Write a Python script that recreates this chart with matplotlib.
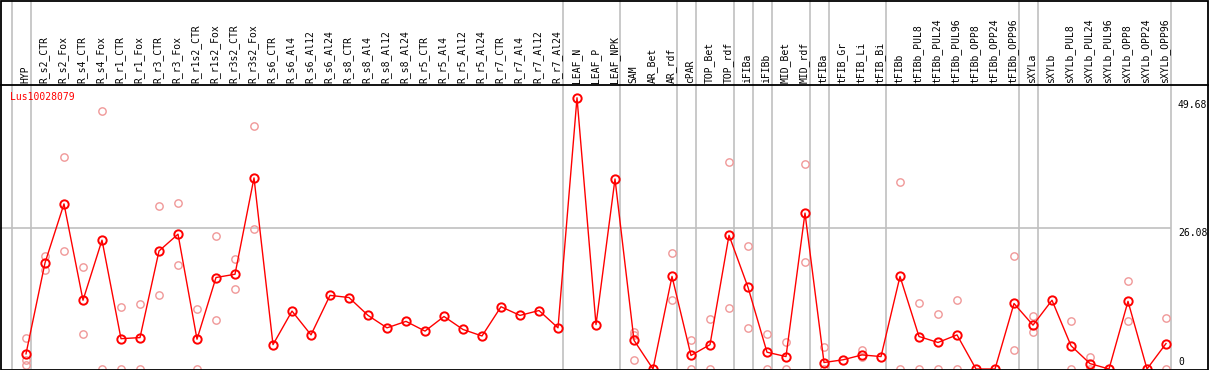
import numpy as np
import matplotlib
matplotlib.use('Agg')
import matplotlib.pyplot as plt
from matplotlib.patches import Rectangle

gene = 'Lus10028079'

samples = ['HYP', 'R_s2_CTR', 'R_s2_Fox', 'R_s4_CTR', 'R_s4_Fox', 'R_r1_CTR', 'R_r1_Fox',
           'R_r3_CTR', 'R_r3_Fox', 'R_r1s2_CTR', 'R_r1s2_Fox', 'R_r3s2_CTR', 'R_r3s2_Fox',
           'R_s6_CTR', 'R_s6_Al4', 'R_s6_Al12', 'R_s6_Al24', 'R_s8_CTR', 'R_s8_Al4', 'R_s8_Al12',
           'R_s8_Al24', 'R_r5_CTR', 'R_r5_Al4', 'R_r5_Al12', 'R_r5_Al24', 'R_r7_CTR', 'R_r7_Al4',
           'R_r7_Al12', 'R_r7_Al24', 'LEAF_N', 'LEAF_P', 'LEAF_NPK', 'SAM', 'AR_Bet', 'AR_rdf',
           'cPAR', 'TOP_Bet', 'TOP_rdf', 'iFIBa', 'iFIBb', 'MID_Bet', 'MID_rdf', 'tFIBa',
           'tFIB_Gr', 'tFIB_Li', 'tFIB_Bi', 'tFIBb', 'tFIBb_PUL8', 'tFIBb_PUL24', 'tFIBb_PUL96',
           'tFIBb_OPP8', 'tFIBb_OPP24', 'tFIBb_OPP96', 'sXYLa', 'sXYLb', 'sXYLb_PUL8',
           'sXYLb_PUL24', 'sXYLb_PUL96', 'sXYLb_OPP8', 'sXYLb_OPP24', 'sXYLb_OPP96']

# last sample of each group (separator drawn after it)
group_ends = ['HYP', 'R_r7_Al24', 'LEAF_NPK', 'AR_rdf', 'cPAR', 'TOP_rdf', 'iFIBa', 'iFIBb',
              'MID_rdf', 'tFIBa', 'tFIB_Bi', 'tFIBb_OPP96', 'sXYLa', 'sXYLb_OPP96']

mean_expr = [2.8, 19.6, 30.5, 12.7, 23.8, 5.6, 5.8, 21.8, 24.9, 5.5, 16.9, 17.5, 35.3,
             4.5, 10.7, 6.3, 13.6, 13.2, 9.9, 7.6, 8.8, 7.0, 9.7, 7.3, 6.1, 11.5, 9.9,
             10.8, 7.6, 50.1, 8.2, 35.1, 5.3, 0.0, 17.1, 2.5, 4.5, 24.7, 15.1, 3.1, 2.3,
             28.8, 1.2, 1.7, 2.6, 2.3, 17.1, 6.0, 4.9, 6.3, 0.0, 0.0, 12.1, 8.1, 12.7,
             4.3, 1.0, 0.0, 12.5, 0.0, 4.7]

# individual replicates (sample name, value)
rep_names = ['HYP', 'HYP', 'HYP', 'R_s2_CTR', 'R_s2_CTR', 'R_s2_Fox', 'R_s2_Fox',
             'R_s4_CTR', 'R_s4_CTR', 'R_s4_Fox', 'R_s4_Fox', 'R_r1_CTR', 'R_r1_CTR',
             'R_r1_Fox', 'R_r1_Fox', 'R_r3_CTR', 'R_r3_CTR', 'R_r3_Fox', 'R_r3_Fox',
             'R_r1s2_CTR', 'R_r1s2_CTR', 'R_r1s2_Fox', 'R_r1s2_Fox', 'R_r3s2_CTR', 'R_r3s2_CTR',
             'R_r3s2_Fox', 'R_r3s2_Fox', 'SAM', 'SAM', 'SAM', 'AR_rdf', 'AR_rdf', 'cPAR', 'cPAR',
             'TOP_Bet', 'TOP_Bet', 'TOP_rdf', 'TOP_rdf', 'iFIBa', 'iFIBa', 'iFIBb', 'iFIBb',
             'MID_Bet', 'MID_Bet', 'MID_rdf', 'MID_rdf', 'tFIBa', 'tFIBa', 'tFIB_Li', 'tFIB_Li',
             'tFIBb', 'tFIBb', 'tFIBb_PUL8', 'tFIBb_PUL8', 'tFIBb_PUL24', 'tFIBb_PUL24',
             'tFIBb_PUL96', 'tFIBb_PUL96', 'tFIBb_OPP96', 'tFIBb_OPP96', 'sXYLa', 'sXYLa',
             'sXYLb_PUL8', 'sXYLb_PUL8', 'sXYLb_PUL24', 'sXYLb_PUL24', 'sXYLb_OPP8', 'sXYLb_OPP8',
             'sXYLb_OPP96', 'sXYLb_OPP96']
rep_values = [5.8, 1.7, 0.8, 20.8, 18.2, 39.2, 21.8,
              18.8, 6.5, 47.7, 0.0, 11.4, 0.0,
              12.0, 0.0, 30.1, 13.6, 30.7, 19.2,
              11.0, 0.0, 24.5, 9.1, 20.3, 14.7,
              44.8, 25.8, 6.8, 6.2, 1.6, 21.4, 12.8, 5.3, 0.0,
              9.3, 0.0, 38.3, 11.2, 22.7, 7.5, 6.5, 0.0,
              4.9, 0.0, 37.9, 19.7, 4.1, 0.0, 3.6, 2.2,
              34.6, 0.0, 12.1, 0.0, 10.1, 0.0,
              12.8, 0.0, 20.8, 3.6, 9.7, 6.8,
              8.9, 0.0, 2.3, 0.0, 16.2, 8.8,
              9.5, 0.0]

y_ticks = [0, 26.08, 49.68]

W, H = 1209, 370
head_px = 85
col_px = 19
first_px = 26
px_per_unit = 5.414

fig = plt.figure(figsize=(W / 100, H / 100), dpi=100)
xlim = (-first_px / col_px, (W - first_px) / col_px)
ax_h = fig.add_axes([0, (H - head_px) / H, 1, head_px / H])
ax = fig.add_axes([0, 1 / H, 1, (head_px - 1) / H * 0 + (H - 1 - head_px) / H])
ax.set_xlim(xlim)
ax.set_ylim(0, (H - 1 - head_px) / px_per_unit)
ax_h.set_xlim(xlim)
ax_h.set_ylim(0, head_px)
for a in (ax, ax_h):
    a.set_xticks([])
    a.set_yticks([])
    for s in a.spines.values():
        s.set_visible(False)

grey = '#c0c0c0'
red = '#ff0000'
pink = '#f09898'
font = 'DejaVu Sans Mono'

x = np.arange(len(samples))
right_edge = len(samples) - 1 + 0.24

# separators
seps = [-1 + 0.24] + [samples.index(n) + 0.24 for n in group_ends]
for a in (ax, ax_h):
    for s in seps:
        a.axvline(s, color=grey, lw=1.2, zorder=1)
ax.hlines(26.08, xlim[0], right_edge, color=grey, lw=1.2, zorder=1)

# labels in header
for i, name in enumerate(samples):
    ax_h.text(i - 0.05, 2, name, rotation=90, ha='center', va='bottom',
              fontsize=7, family=font, color='black')

# replicates
rep_x = [samples.index(n) for n in rep_names]
ax.plot(rep_x, rep_values, linestyle='none', marker='o', ms=5.3, mfc='none',
        mec=pink, mew=1.0, zorder=2)
# mean line
ax.plot(x, mean_expr, color=red, lw=1.0, marker='o', ms=6.0, mfc='none',
        mec=red, mew=1.4, zorder=3)

ax.text(10 / W, 0.975, gene, transform=ax.transAxes, ha='left', va='top',
        fontsize=7, family=font, color=red)

tick_x = (1178 - first_px) / col_px
for v in y_ticks:
    if v == 0:
        ax.text(tick_x, v + 0.3, '0', ha='left', va='bottom', fontsize=7, family=font)
    else:
        ax.text(tick_x, v, f'{v:.2f}', ha='left', va='top', fontsize=7, family=font)

# frame lines
fig.add_artist(Rectangle((0.5 / W, 0.5 / H), (W - 1.5) / W, (H - 1.5) / H,
                         transform=fig.transFigure, fill=False, ec='black', lw=1.3))
fig.add_artist(plt.Line2D([0, 1], [(H - head_px) / H] * 2, transform=fig.transFigure,
                          color='black', lw=1.3))

fig.savefig('out.png', dpi=100)
